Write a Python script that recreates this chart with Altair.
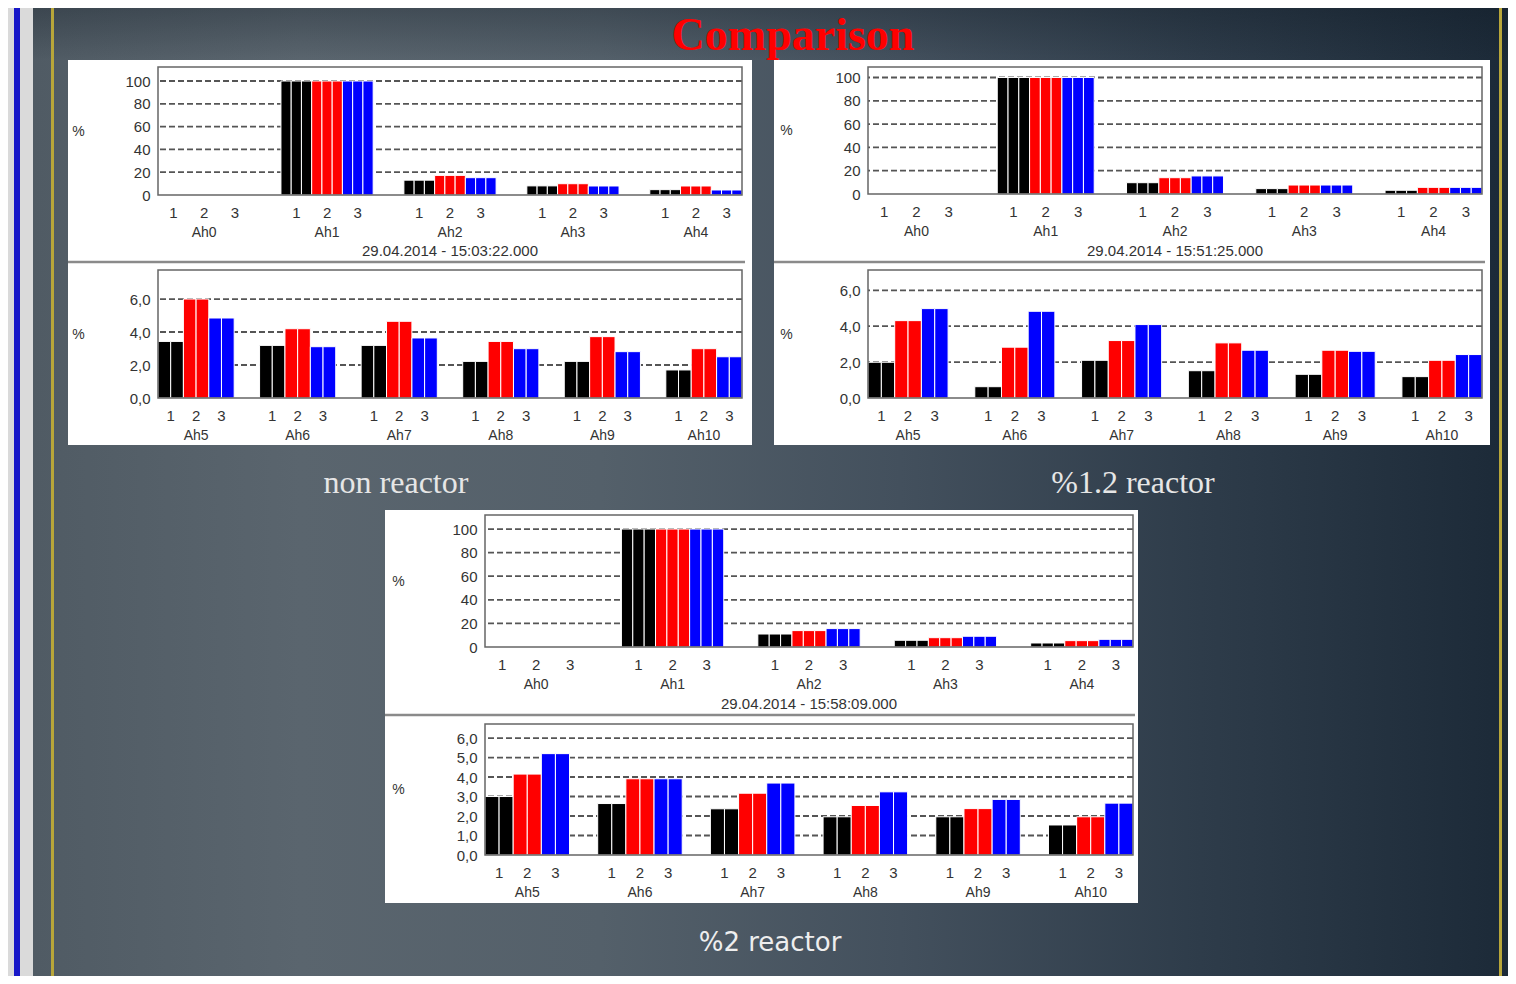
import altair as alt
import pandas as pd

# ---------------- data ----------------
GROUPS_TOP = ["Ah0", "Ah1", "Ah2", "Ah3", "Ah4"]
GROUPS_BOTTOM = ["Ah5", "Ah6", "Ah7", "Ah8", "Ah9", "Ah10"]
PHASES = ["1", "2", "3"]
PHASE_COLORS = ["#000000", "#ff0000", "#0000ff"]

# non reactor
NON_TOP_1 = [0, 100, 13.0, 8.0, 4.7]
NON_TOP_2 = [0, 100, 17.2, 9.9, 7.9]
NON_TOP_3 = [0, 100, 15.2, 7.9, 4.4]
NON_BOT_1 = [3.43, 3.19, 3.19, 2.22, 2.22, 1.70]
NON_BOT_2 = [6.00, 4.20, 4.65, 3.43, 3.72, 2.99]
NON_BOT_3 = [4.85, 3.11, 3.64, 2.99, 2.81, 2.50]

# %1.2 reactor
R12_TOP_1 = [0, 100, 9.7, 4.6, 3.2]
R12_TOP_2 = [0, 100, 14.0, 7.7, 5.7]
R12_TOP_3 = [0, 100, 15.5, 7.7, 5.7]
R12_BOT_1 = [1.99, 0.63, 2.10, 1.52, 1.32, 1.19]
R12_BOT_2 = [4.31, 2.83, 3.20, 3.07, 2.66, 2.10]
R12_BOT_3 = [4.98, 4.83, 4.09, 2.66, 2.60, 2.42]

# %2 reactor
R2_TOP_1 = [0, 100, 11.0, 5.7, 3.4]
R2_TOP_2 = [0, 100, 13.9, 7.9, 5.4]
R2_TOP_3 = [0, 100, 15.6, 9.1, 6.5]
R2_BOT_1 = [3.00, 2.64, 2.37, 1.96, 1.96, 1.54]
R2_BOT_2 = [4.15, 3.91, 3.17, 2.54, 2.38, 1.96]
R2_BOT_3 = [5.20, 3.91, 3.69, 3.24, 2.85, 2.66]

TOP_TICKS = [0, 20, 40, 60, 80, 100]
BOT_TICKS_AB = [0, 2, 4, 6]
BOT_TICKS_C = [0, 1, 2, 3, 4, 5, 6]

TITLE = "Comparison"
CAPTIONS = ["non reactor", "%1.2 reactor", "%2 reactor"]
STAMPS = ["29.04.2014 - 15:03:22.000", "29.04.2014 - 15:51:25.000",
          "29.04.2014 - 15:58:09.000"]

# ---------------- style ----------------
FONT = "Liberation Sans"
INK = "#333333"
PAGE_L, PAGE_R = 8, 1508
OV = 7  # backdrop overlap between neighbouring views (compensated by spacing=-OV)
BG_STOPS = [(0.0, "#4f5a63"), (0.195, "#5a656e"), (0.395, "#54606a"),
            (0.595, "#43505d"), (0.795, "#2e3c4a"), (1.0, "#1c2a38")]
TOP_SHADE = [(0.0, "rgba(12,22,32,0.30)"), (1.0, "rgba(12,22,32,0)")]
MARBLE = "#dadada"
EDGE_BLUE = "#1818c8"
GOLD = "#b8a63a"

ONE = pd.DataFrame({"k": [0]})


def rect(x1, x2, y1, y2, **kw):
    return alt.Chart(ONE).mark_rect(**kw).encode(
        x=alt.value(x1), x2=alt.value(x2), y=alt.value(y1), y2=alt.value(y2))


def label(txt, x, y, **kw):
    return alt.Chart(pd.DataFrame({"t": [txt]})).mark_text(**kw).encode(
        x=alt.value(x), y=alt.value(y), text="t:N")


def backdrop(ox, oy, tile, grow, left=False, right=False, shade=False):
    # tile: nominal page extents; grow: flags (left, top, bottom) -> extend by OV
    x0, x1, y0, y1 = tile
    gl, gt, gb = grow
    ex0 = x0 - (OV if gl else 0)
    ey0 = y0 - (OV if gt else 0)
    ey1 = y1 + (OV if gb else 0)
    w = x1 - ex0
    hg = alt.LinearGradient(
        gradient="linear", x1=(PAGE_L - ex0) / w, x2=(PAGE_R - ex0) / w, y1=0, y2=0,
        stops=[alt.GradientStop(offset=o, color=c) for o, c in BG_STOPS])
    L = [rect(ex0 - ox, x1 - ox, ey0 - oy, ey1 - oy, fill=hg)]
    if shade:
        vg = alt.LinearGradient(gradient="linear", x1=0, x2=0, y1=0, y2=1,
                                stops=[alt.GradientStop(offset=o, color=c) for o, c in TOP_SHADE])
        L.append(rect(x0 - ox, x1 - ox, y0 - oy, y1 - oy, fill=vg))
    if left:
        L += [rect(8 - ox, 33 - ox, ey0 - oy, ey1 - oy, fill=MARBLE),
              rect(14 - ox, 20 - ox, ey0 - oy, ey1 - oy, fill=EDGE_BLUE),
              rect(51 - ox, 54 - ox, ey0 - oy, ey1 - oy, fill=GOLD)]
    if right:
        L += [rect(1499 - ox, 1502 - ox, ey0 - oy, ey1 - oy, fill=GOLD)]
    return L


def make_panel(g):
    ox, oy = g["origin"]
    W, H = g["w"], g["h"]
    layers = backdrop(ox, oy, g["tile"], g.get("grow", (False, False, False)),
                      g.get("left", False), g.get("right", False), g.get("shade", False))
    if "white" in g:
        wx0, wx1, wy0, wy1 = g["white"]
        layers.append(rect(wx0 - ox, wx1 - ox, wy0 - oy, wy1 - oy, fill="#ffffff"))
    if "sep" in g:
        sx0, sx1, sy = g["sep"]
        layers.append(alt.Chart(ONE).mark_rule(color="#8a8a8a", strokeWidth=2.5).encode(
            x=alt.value(sx0 - ox), x2=alt.value(sx1 - ox), y=alt.value(sy - oy)))
    has_bars = "groups" in g
    if has_bars:
        groups = g["groups"]
        rows = []
        for pi, (ph, vals) in enumerate(zip(PHASES, g["series"])):
            for grp, v in zip(groups, vals):
                rows.append({"grp": grp, "phase": ph, "pi": pi, "v": v})
        df = pd.DataFrame(rows)
        grid_df = pd.DataFrame({"v": [t for t in g["ticks"] if t > 0]})
        ns = g["strips"]
        xenc = alt.X("grp:N", scale=alt.Scale(domain=groups, paddingInner=0.25, paddingOuter=0),
                     axis=alt.Axis(title=None, labelAngle=0, ticks=False, tickSize=0, domain=False,
                                   grid=False, labelPadding=37, labelBaseline="middle",
                                   labelFont=FONT, labelFontSize=14, labelColor=INK, zindex=1))
        yaxis = dict(values=g["ticks"], title="%", titleAngle=0, titleX=g["tx"], titleY=H / 2,
                     titleAlign="center", titleBaseline="middle", titleFont=FONT,
                     titleFontSize=14, titleFontWeight="normal", titleColor=INK,
                     ticks=False, tickSize=0, domain=False, grid=False, labelPadding=8,
                     labelFont=FONT, labelFontSize=15, labelColor=INK, zindex=1)
        if g["comma"]:
            yaxis["labelExpr"] = "replace(format(datum.value, '.1f'), '.', ',')"
        else:
            yaxis["format"] = "d"
        yenc = alt.Y("v:Q", scale=alt.Scale(domain=[0, g["ymax"]], nice=False, zero=True),
                     axis=alt.Axis(**yaxis))
        layers.append(alt.Chart(grid_df).mark_rule(strokeDash=[6, 3], color="#555555",
                                                  strokeWidth=1.8).encode(y=yenc))
        layers.append(
            alt.Chart(df)
            .transform_calculate(strip=f"sequence(0, {ns})")
            .transform_flatten(["strip"])
            .transform_calculate(sub=f"datum.pi * {ns} + datum.strip")
            .mark_bar(stroke="white", strokeWidth=1)
            .encode(x=xenc,
                    xOffset=alt.XOffset("sub:O", scale=alt.Scale(domain=list(range(3 * ns)))),
                    y=yenc,
                    color=alt.Color("phase:N", scale=alt.Scale(domain=PHASES, range=PHASE_COLORS),
                                    legend=None)))
        layers.append(rect(0, W, 0, H, fillOpacity=0, stroke="#666666", strokeWidth=1.5))
        layers.append(
            alt.Chart(df).mark_text(font=FONT, fontSize=15, color=INK, baseline="middle")
            .encode(x=xenc, xOffset=alt.XOffset("phase:N", scale=alt.Scale(domain=PHASES)),
                    y=alt.value(H + 18), text="phase:N"))
    if "stamp" in g:
        txt, sy = g["stamp"]
        layers.append(label(txt, W / 2, sy - oy, font=FONT, fontSize=15, color=INK,
                            align="center", baseline="middle"))
    if "caption" in g:
        txt, cx, cy, kw = g["caption"]
        layers.append(label(txt, cx - ox, cy - oy, align="center", baseline="middle", **kw))
    if "title" in g:
        txt, cx, cy = g["title"]
        layers.append(label(txt, cx - ox, cy - oy, font="Liberation Serif", fontWeight="bold",
                            fontSize=46, color="#ff0000", align="center", baseline="middle"))
    ch = alt.layer(*layers)
    if has_bars:
        ch = ch.resolve_scale(xOffset="independent")
    return ch.properties(width=W, height=H)


SERIF_CAP = dict(font="Liberation Serif", fontSize=32, color="#e6e6e6")
SANS_CAP = dict(font="DejaVu Sans", fontSize=26, color="#eeeeee")
T, F = True, False

GEO = {
    # grow = (left, top, bottom)
    "title": dict(origin=(158, 8), w=1, h=1, tile=(8, 1508, 8, 60), grow=(F, F, T),
                  left=True, right=True, shade=True, title=(TITLE, 793, 35.5)),
    "At": dict(origin=(158, 67), w=584, h=128, tile=(8, 763, 60, 266), grow=(F, F, F),
               left=True, white=(68, 752, 60, 266), groups=GROUPS_TOP,
               series=[NON_TOP_1, NON_TOP_2, NON_TOP_3], ticks=TOP_TICKS, ymax=112.3,
               comma=False, strips=3, tx=-80, stamp=(STAMPS[0], 251)),
    "Ab": dict(origin=(158, 270), w=584, h=128, tile=(8, 763, 266, 500), grow=(F, T, F),
               left=True, white=(68, 752, 259, 445), sep=(68, 745, 262), groups=GROUPS_BOTTOM,
               series=[NON_BOT_1, NON_BOT_2, NON_BOT_3], ticks=BOT_TICKS_AB, ymax=7.76,
               comma=True, strips=2, tx=-80, caption=(CAPTIONS[0], 396, 483, SERIF_CAP)),
    "Bt": dict(origin=(868, 67), w=614, h=127, tile=(763, 1508, 60, 266), grow=(T, F, F),
               right=True, white=(774, 1490, 60, 266), groups=GROUPS_TOP,
               series=[R12_TOP_1, R12_TOP_2, R12_TOP_3], ticks=TOP_TICKS, ymax=109.0,
               comma=False, strips=3, tx=-82, stamp=(STAMPS[1], 251)),
    "Bb": dict(origin=(868, 270), w=614, h=128, tile=(763, 1508, 266, 500), grow=(T, T, F),
               right=True, white=(774, 1490, 259, 445), sep=(774, 1485, 262),
               groups=GROUPS_BOTTOM,
               series=[R12_BOT_1, R12_BOT_2, R12_BOT_3], ticks=BOT_TICKS_AB, ymax=7.13,
               comma=True, strips=2, tx=-82, caption=(CAPTIONS[1], 1133, 483, SERIF_CAP)),
    "spacer": dict(origin=(158, 515), w=1, h=1, tile=(8, 385, 500, 976), grow=(F, T, F),
                   left=True),
    "Ct": dict(origin=(485, 515), w=648, h=132, tile=(385, 1508, 500, 719), grow=(T, T, F),
               right=True, white=(385, 1138, 510, 719), groups=GROUPS_TOP,
               series=[R2_TOP_1, R2_TOP_2, R2_TOP_3], ticks=TOP_TICKS, ymax=111.9,
               comma=False, strips=3, tx=-87, stamp=(STAMPS[2], 704)),
    "Cb": dict(origin=(485, 724), w=648, h=131, tile=(385, 1508, 719, 976), grow=(T, T, F),
               right=True, white=(385, 1138, 712, 903), sep=(385, 1135, 715),
               groups=GROUPS_BOTTOM,
               series=[R2_BOT_1, R2_BOT_2, R2_BOT_3], ticks=BOT_TICKS_C, ymax=6.72,
               comma=True, strips=2, tx=-87, caption=(CAPTIONS[2], 770, 943, SANS_CAP)),
}

P = {k: make_panel(v) for k, v in GEO.items()}

A = alt.vconcat(P["At"], P["Ab"], spacing=-OV)
B = alt.vconcat(P["Bt"], P["Bb"], spacing=-OV)
C = alt.vconcat(P["Ct"], P["Cb"], spacing=-OV)
row0 = alt.hconcat(A, B, spacing=-OV)
row1 = alt.hconcat(P["spacer"], C, spacing=-OV)

chart = (
    alt.vconcat(P["title"], row0, row1, spacing=-OV)
    .properties(padding=0, background="#3a4652")
    .configure_view(stroke="transparent", strokeWidth=0)
)

chart.save("out.html", embed_options={"renderer": "svg", "actions": False})
